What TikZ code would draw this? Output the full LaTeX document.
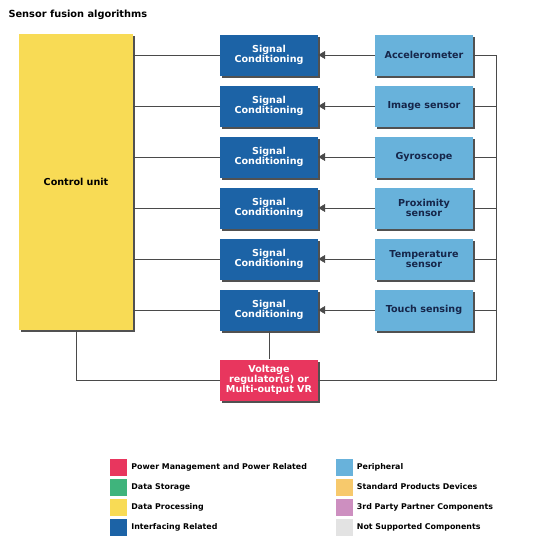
\documentclass[tikz,border=0pt]{standalone}
\usepackage{fontspec}
\setmainfont{DejaVu Sans}
\usepackage{tikz}
\usetikzlibrary{arrows.meta,shapes,shadows,positioning}

\definecolor{cuyellow}{HTML}{F8DB55}
\definecolor{scblue}{HTML}{1C63A6}
\definecolor{senblue}{HTML}{68B2DB}
\definecolor{vrred}{HTML}{E8365E}
\definecolor{dsgreen}{HTML}{3FB47C}
\definecolor{spdorange}{HTML}{F7C96C}
\definecolor{tppurple}{HTML}{CD8FC0}
\definecolor{nsgray}{HTML}{E3E3E3}
\definecolor{wiregray}{HTML}{4A4A4A}
\definecolor{navytext}{HTML}{16264A}

\begin{document}
\begin{tikzpicture}[x=1pt,y=-1pt,>={Triangle[length=7pt,width=8pt]},node distance=51pt,
        box/.style={rectangle,minimum width=98pt,minimum height=41pt,inner sep=1pt,align=center,
          font=\fontsize{9.6}{10.2}\selectfont\bfseries,
          drop shadow={shadow xshift=1.5pt,shadow yshift=-2pt,opacity=.8,fill=black!85}},
        cond/.style={box,fill=scblue,text=white},
        sensor/.style={box,fill=senblue,text=navytext},
        key/.style={rectangle,minimum size=17pt,inner sep=0pt},
        keytext/.style={inner sep=0pt,font=\fontsize{7.9}{8.5}\selectfont\bfseries},
        wire/.style={draw=wiregray,line width=.7pt}]

        \useasboundingbox (0,0) rectangle (535,542);

        \node [anchor=west,font=\fontsize{9.8}{11}\selectfont\bfseries] (title) at (5,15) {Sensor fusion algorithms};

        \node [box,fill=cuyellow,text=black,minimum width=114pt,minimum height=296pt] (cu) at (76,182) {Control unit};

        \node [cond]   (sc1) at (269,55) {Signal\\Conditioning};
        \node [cond]   (sc2) [below of=sc1] {Signal\\Conditioning};
        \node [cond]   (sc3) [below of=sc2] {Signal\\Conditioning};
        \node [cond]   (sc4) [below of=sc3] {Signal\\Conditioning};
        \node [cond]   (sc5) [below of=sc4] {Signal\\Conditioning};
        \node [cond]   (sc6) [below of=sc5] {Signal\\Conditioning};
        \node [box,fill=vrred,text=white] (vr) [below of=sc6, node distance=70pt] {Voltage\\regulator(s) or\\Multi-output VR};

        \node [sensor] (s1) [right of=sc1, node distance=155pt] {Accelerometer};
        \node [sensor] (s2) [right of=sc2, node distance=155pt] {Image sensor};
        \node [sensor] (s3) [right of=sc3, node distance=155pt] {Gyroscope};
        \node [sensor] (s4) [right of=sc4, node distance=155pt] {Proximity\\sensor};
        \node [sensor] (s5) [right of=sc5, node distance=155pt] {Temperature\\sensor};
        \node [sensor] (s6) [right of=sc6, node distance=155pt] {Touch sensing};

        \path (s1.east)+(23,0) coordinate (bus);

        \foreach \i in {1,...,6} {
          \draw [wire] (cu.east |- sc\i) -- (sc\i.west);
          \draw [wire,->] (s\i.west) -- (sc\i.east);
          \draw [wire] (s\i.east) -- (s\i.east -| bus);
        }
        \draw [wire] (bus) |- (vr.east);
        \draw [wire] (sc6.south) -- (vr.north);
        \draw [wire] (cu.south) |- (vr.west);

        \node [key,fill=vrred]     (k1) at (118.5,467) {};
        \node [key,fill=dsgreen]   (k2) [below of=k1, node distance=20pt] {};
        \node [key,fill=cuyellow]  (k3) [below of=k2, node distance=20pt] {};
        \node [key,fill=scblue]    (k4) [below of=k3, node distance=20pt] {};
        \node [key,fill=senblue]   (k5) at (344,467) {};
        \node [key,fill=spdorange] (k6) [below of=k5, node distance=20pt] {};
        \node [key,fill=tppurple]  (k7) [below of=k6, node distance=20pt] {};
        \node [key,fill=nsgray]    (k8) [below of=k7, node distance=20pt] {};

        \node [keytext] (t1) [right=4pt of k1] {Power Management and Power Related};
        \node [keytext] (t2) [right=4pt of k2] {Data Storage};
        \node [keytext] (t3) [right=4pt of k3] {Data Processing};
        \node [keytext] (t4) [right=4pt of k4] {Interfacing Related};
        \node [keytext] (t5) [right=4pt of k5] {Peripheral};
        \node [keytext] (t6) [right=4pt of k6] {Standard Products Devices};
        \node [keytext] (t7) [right=4pt of k7] {3rd Party Partner Components};
        \node [keytext] (t8) [right=4pt of k8] {Not Supported Components};
      \end{tikzpicture}
\end{document}
